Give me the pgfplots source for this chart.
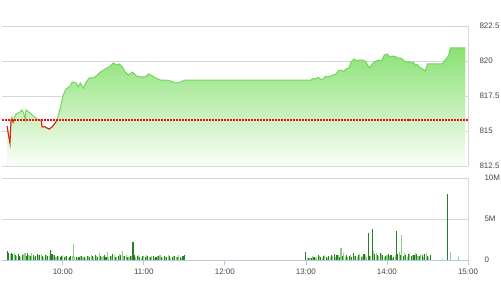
\documentclass[border=0pt]{standalone}
\usepackage{pgfplots}
\pgfplotsset{compat=1.18}
\usepackage{pgfplotstable}
\usepackage{fontspec}
\setmainfont{Liberation Sans}
\definecolor{lgreen}{RGB}{115,214,92}
\definecolor{fgreen}{RGB}{138,225,116}
\definecolor{vdark}{RGB}{35,128,35}
\definecolor{vlight}{RGB}{140,210,128}
\definecolor{gridc}{RGB}{215,215,215}
\definecolor{labc}{RGB}{70,70,70}
\definecolor{xaxc}{RGB}{185,200,222}
\definecolor{redl}{RGB}{245,15,15}

\pgfplotstableread{
t p
18.7 815.36
20.9 814.14
21.7 815.79
22.4 816.0
23.2 815.64
23.9 815.9
25.4 816.21
28.4 816.36
29.9 816.5
31.3 816.21
32.1 815.8
32.8 816.5
35.8 816.29
38.0 816.07
40.2 815.93
41.7 815.8
44.0 815.79
44.7 815.29
46.9 815.29
48.4 815.21
49.9 815.14
52.1 815.29
54.4 815.57
55.8 815.8
58.1 816.64
60.3 817.57
62.5 818.0
65.5 818.21
67.0 818.5
70.0 818.43
71.4 818.14
72.9 818.43
75.2 818.07
77.4 818.5
79.6 818.79
82.6 818.79
84.8 818.93
87.8 819.21
91.5 819.43
95.2 819.64
97.4 819.86
99.7 819.71
101.9 819.79
104.1 819.57
106.3 819.21
108.6 819.0
111.5 819.21
114.5 818.93
117.5 818.86
121.2 818.86
123.4 819.07
126.4 818.93
128.6 818.79
132.3 818.64
136.0 818.64
139.8 818.57
143.5 818.43
147.2 818.5
150.2 818.64
243.7 818.64
245.5 818.75
247.4 818.71
248.6 818.82
249.7 818.79
251.0 818.68
252.6 818.71
254.5 818.9
256.3 818.86
258.0 818.93
260.1 819.0
262.3 819.07
264.0 819.3
266.0 819.36
268.0 819.25
269.7 819.43
271.9 819.5
273.4 819.93
275.7 820.14
277.5 820.0
279.4 820.07
282.3 820.07
284.6 819.93
286.8 819.5
289.8 819.86
292.0 820.0
294.2 820.07
296.0 820.0
298.0 820.43
300.2 820.5
301.5 820.35
303.1 820.29
304.8 820.36
306.8 820.29
308.5 820.2
310.6 820.21
312.8 820.0
314.3 819.93
316.2 819.97
318.0 819.86
319.5 819.9
321.0 819.71
322.5 819.75
324.0 819.57
326.2 819.43
328.4 819.29
329.9 819.79
341.0 819.79
345.5 820.36
347.0 820.93
358.1 820.93
}\price

\pgfplotstableread{
t p
18.7 812.5
18.7 815.36
20.9 814.14
21.7 815.79
22.4 816.0
23.2 815.64
23.9 815.9
25.4 816.21
28.4 816.36
29.9 816.5
31.3 816.21
32.1 815.8
32.8 816.5
35.8 816.29
38.0 816.07
40.2 815.93
41.7 815.8
44.0 815.79
44.7 815.29
46.9 815.29
48.4 815.21
49.9 815.14
52.1 815.29
54.4 815.57
55.8 815.8
58.1 816.64
60.3 817.57
62.5 818.0
65.5 818.21
67.0 818.5
70.0 818.43
71.4 818.14
72.9 818.43
75.2 818.07
77.4 818.5
79.6 818.79
82.6 818.79
84.8 818.93
87.8 819.21
91.5 819.43
95.2 819.64
97.4 819.86
99.7 819.71
101.9 819.79
104.1 819.57
106.3 819.21
108.6 819.0
111.5 819.21
114.5 818.93
117.5 818.86
121.2 818.86
123.4 819.07
126.4 818.93
128.6 818.79
132.3 818.64
136.0 818.64
139.8 818.57
143.5 818.43
147.2 818.5
150.2 818.64
243.7 818.64
245.5 818.75
247.4 818.71
248.6 818.82
249.7 818.79
251.0 818.68
252.6 818.71
254.5 818.9
256.3 818.86
258.0 818.93
260.1 819.0
262.3 819.07
264.0 819.3
266.0 819.36
268.0 819.25
269.7 819.43
271.9 819.5
273.4 819.93
275.7 820.14
277.5 820.0
279.4 820.07
282.3 820.07
284.6 819.93
286.8 819.5
289.8 819.86
292.0 820.0
294.2 820.07
296.0 820.0
298.0 820.43
300.2 820.5
301.5 820.35
303.1 820.29
304.8 820.36
306.8 820.29
308.5 820.2
310.6 820.21
312.8 820.0
314.3 819.93
316.2 819.97
318.0 819.86
319.5 819.9
321.0 819.71
322.5 819.75
324.0 819.57
326.2 819.43
328.4 819.29
329.9 819.79
341.0 819.79
345.5 820.36
347.0 820.93
358.1 820.93
358.1 812.5
}\pricefill

\pgfplotstableread{
t v
19 1.1
20 0.8
22 0.9
23 0.7
25 0.6
27 0.7
28 0.5
30 0.6
33 0.5
34 0.8
36 0.5
38 0.6
40 0.5
41 0.7
43 0.6
45 0.5
47 0.6
49 0.5
51 1.2
52 0.7
54 0.6
56 0.5
58 0.4
59 0.5
61 0.4
63 0.5
65 0.4
66 0.5
70 0.4
72 0.4
74 0.5
76 0.4
78 0.5
80 0.4
82 0.5
84 0.6
86 0.4
88 0.5
91 0.6
92 0.4
95 0.5
97 0.7
99 0.4
101 0.5
103 0.6
106 0.5
108 0.4
110 0.5
112 2.2
113 0.6
115 0.5
117 0.4
119 0.5
121 0.4
123 0.5
125 0.4
127 0.5
129 0.4
131 0.5
133 0.4
135 0.5
137 0.4
139 0.5
141 0.4
143 0.5
145 0.4
147 0.4
149 0.5
150 0.6
240 1.0
242 0.2
244 0.3
246 0.4
249 0.6
251 0.4
253 0.5
255 0.4
257 0.5
259 0.6
261 0.7
263 0.6
265 0.4
267 0.5
270 0.6
272 0.5
274 0.4
275 0.9
277 0.5
279 0.6
281 0.4
283 0.7
286 3.3
287 0.5
289 3.8
291 0.7
293 0.6
295 0.8
297 0.6
299 0.5
301 0.7
303 0.6
305 0.4
307 3.5
308 0.7
310 0.6
312 0.5
314 0.6
316 0.7
318 0.5
320 0.6
322 0.7
324 0.5
326 0.6
328 0.7
330 0.5
332 0.6
345 8.0
}\voldark

\pgfplotstableread{
t v
21 0.7
24 0.8
26 0.5
29 0.4
31 0.7
32 0.9
35 0.6
37 0.8
39 0.4
42 0.6
44 0.7
46 0.4
48 0.6
50 0.5
53 0.6
55 0.4
57 0.5
60 0.6
62 0.5
64 0.3
67 0.5
68 2.0
69 0.4
71 0.3
73 0.5
75 0.4
77 0.3
79 0.5
81 0.6
83 0.4
85 0.5
87 0.8
89 0.4
90 0.5
93 1.0
94 0.4
96 0.5
98 0.6
100 0.4
102 0.7
104 1.1
105 0.5
107 0.6
109 0.4
111 0.5
114 0.4
116 0.6
118 0.3
120 0.5
122 0.6
124 0.4
126 0.5
128 0.3
130 0.5
132 0.6
134 0.3
136 0.4
138 0.6
140 0.3
142 0.5
144 0.4
146 0.6
148 0.3
241 0.3
243 0.2
245 0.5
247 0.3
248 0.4
250 0.5
252 0.3
254 0.6
256 0.3
258 0.4
260 0.5
262 0.4
264 0.6
266 1.5
268 0.8
269 0.4
271 0.4
273 0.6
276 0.5
278 0.4
280 0.7
282 0.5
284 0.6
285 0.4
288 0.5
290 1.1
292 0.9
294 0.5
296 0.7
298 0.4
300 0.6
302 0.5
304 0.3
306 0.6
309 1.0
311 3.0
313 0.8
315 0.4
317 0.9
319 0.6
321 0.8
323 0.5
325 0.7
327 0.4
329 0.8
331 0.4
341 0.1
347 1.0
353 0.4
}\vollight

\begin{document}
\begin{tikzpicture}
\path[use as bounding box] (0,0) rectangle (501bp,300bp);
\pgfplotsset{
  every axis/.append style={
    scale only axis, width=466bp, xmin=15, xmax=360,
    /pgf/number format/assume math mode=true,
    tick label style={font=\fontsize{8}{9}\selectfont, text=labc},
    grid style={gridc, line width=0.8bp},
    ymajorgrids,
    axis y line*=right,
    axis line style={gridc, line width=0.8bp},
    ytick style={draw=none},
    yticklabel style={anchor=west, xshift=8bp},
  }
}
% price panel
\begin{axis}[
  at={(2bp,134bp)}, anchor=south west, height=140bp,
  ymin=812.5, ymax=822.5,
  ytick={812.5,815,817.5,820,822.5},
  yticklabels={812.5,815,817.5,820,822.5},
  axis x line=none,
  clip=true,
]
\addplot[draw=none, top color=fgreen, bottom color={rgb,255:red,250;green,254;blue,248}] table[x=t,y=p] {\pricefill};
\addplot[lgreen, line width=1bp, mark=none] table[x=t,y=p] {\price};
\addplot[redl, line width=2bp, densely dotted, mark=none] coordinates {(15,815.82) (360,815.82)};
\addplot[redl, line width=1bp, solid, mark=none] coordinates {(18.7,815.36) (20.9,814.14) (21.7,815.79)};
\addplot[redl, line width=1bp, solid, mark=none] coordinates {(22.85,815.8) (23.2,815.64) (23.7,815.8)};
\addplot[redl, line width=1bp, solid, mark=none] coordinates {(44.0,815.79) (44.7,815.29) (46.9,815.29) (48.4,815.21) (49.9,815.14) (52.1,815.29) (54.4,815.57) (55.8,815.8)};
\end{axis}
% volume panel
\begin{axis}[
  at={(2bp,40bp)}, anchor=south west, height=82bp,
  ymin=0, ymax=10,
  ytick={0,5,10}, yticklabels={0,5M,10M},
  axis x line*=bottom,
  x axis line style={xaxc, line width=0.8bp},
  xtick={60,120,180,240,300,360},
  xticklabels={10:00,11:00,12:00,13:00,14:00,15:00},
  xtick style={draw=xaxc, line width=0.8bp},
  tick align=outside, major tick length=5bp,
]
\addplot[ycomb, vdark, line width=1.1bp, mark=none] table[x=t,y=v] {\voldark};
\addplot[ycomb, vlight, line width=1.1bp, mark=none] table[x=t,y=v] {\vollight};
\end{axis}
\end{tikzpicture}
\end{document}
